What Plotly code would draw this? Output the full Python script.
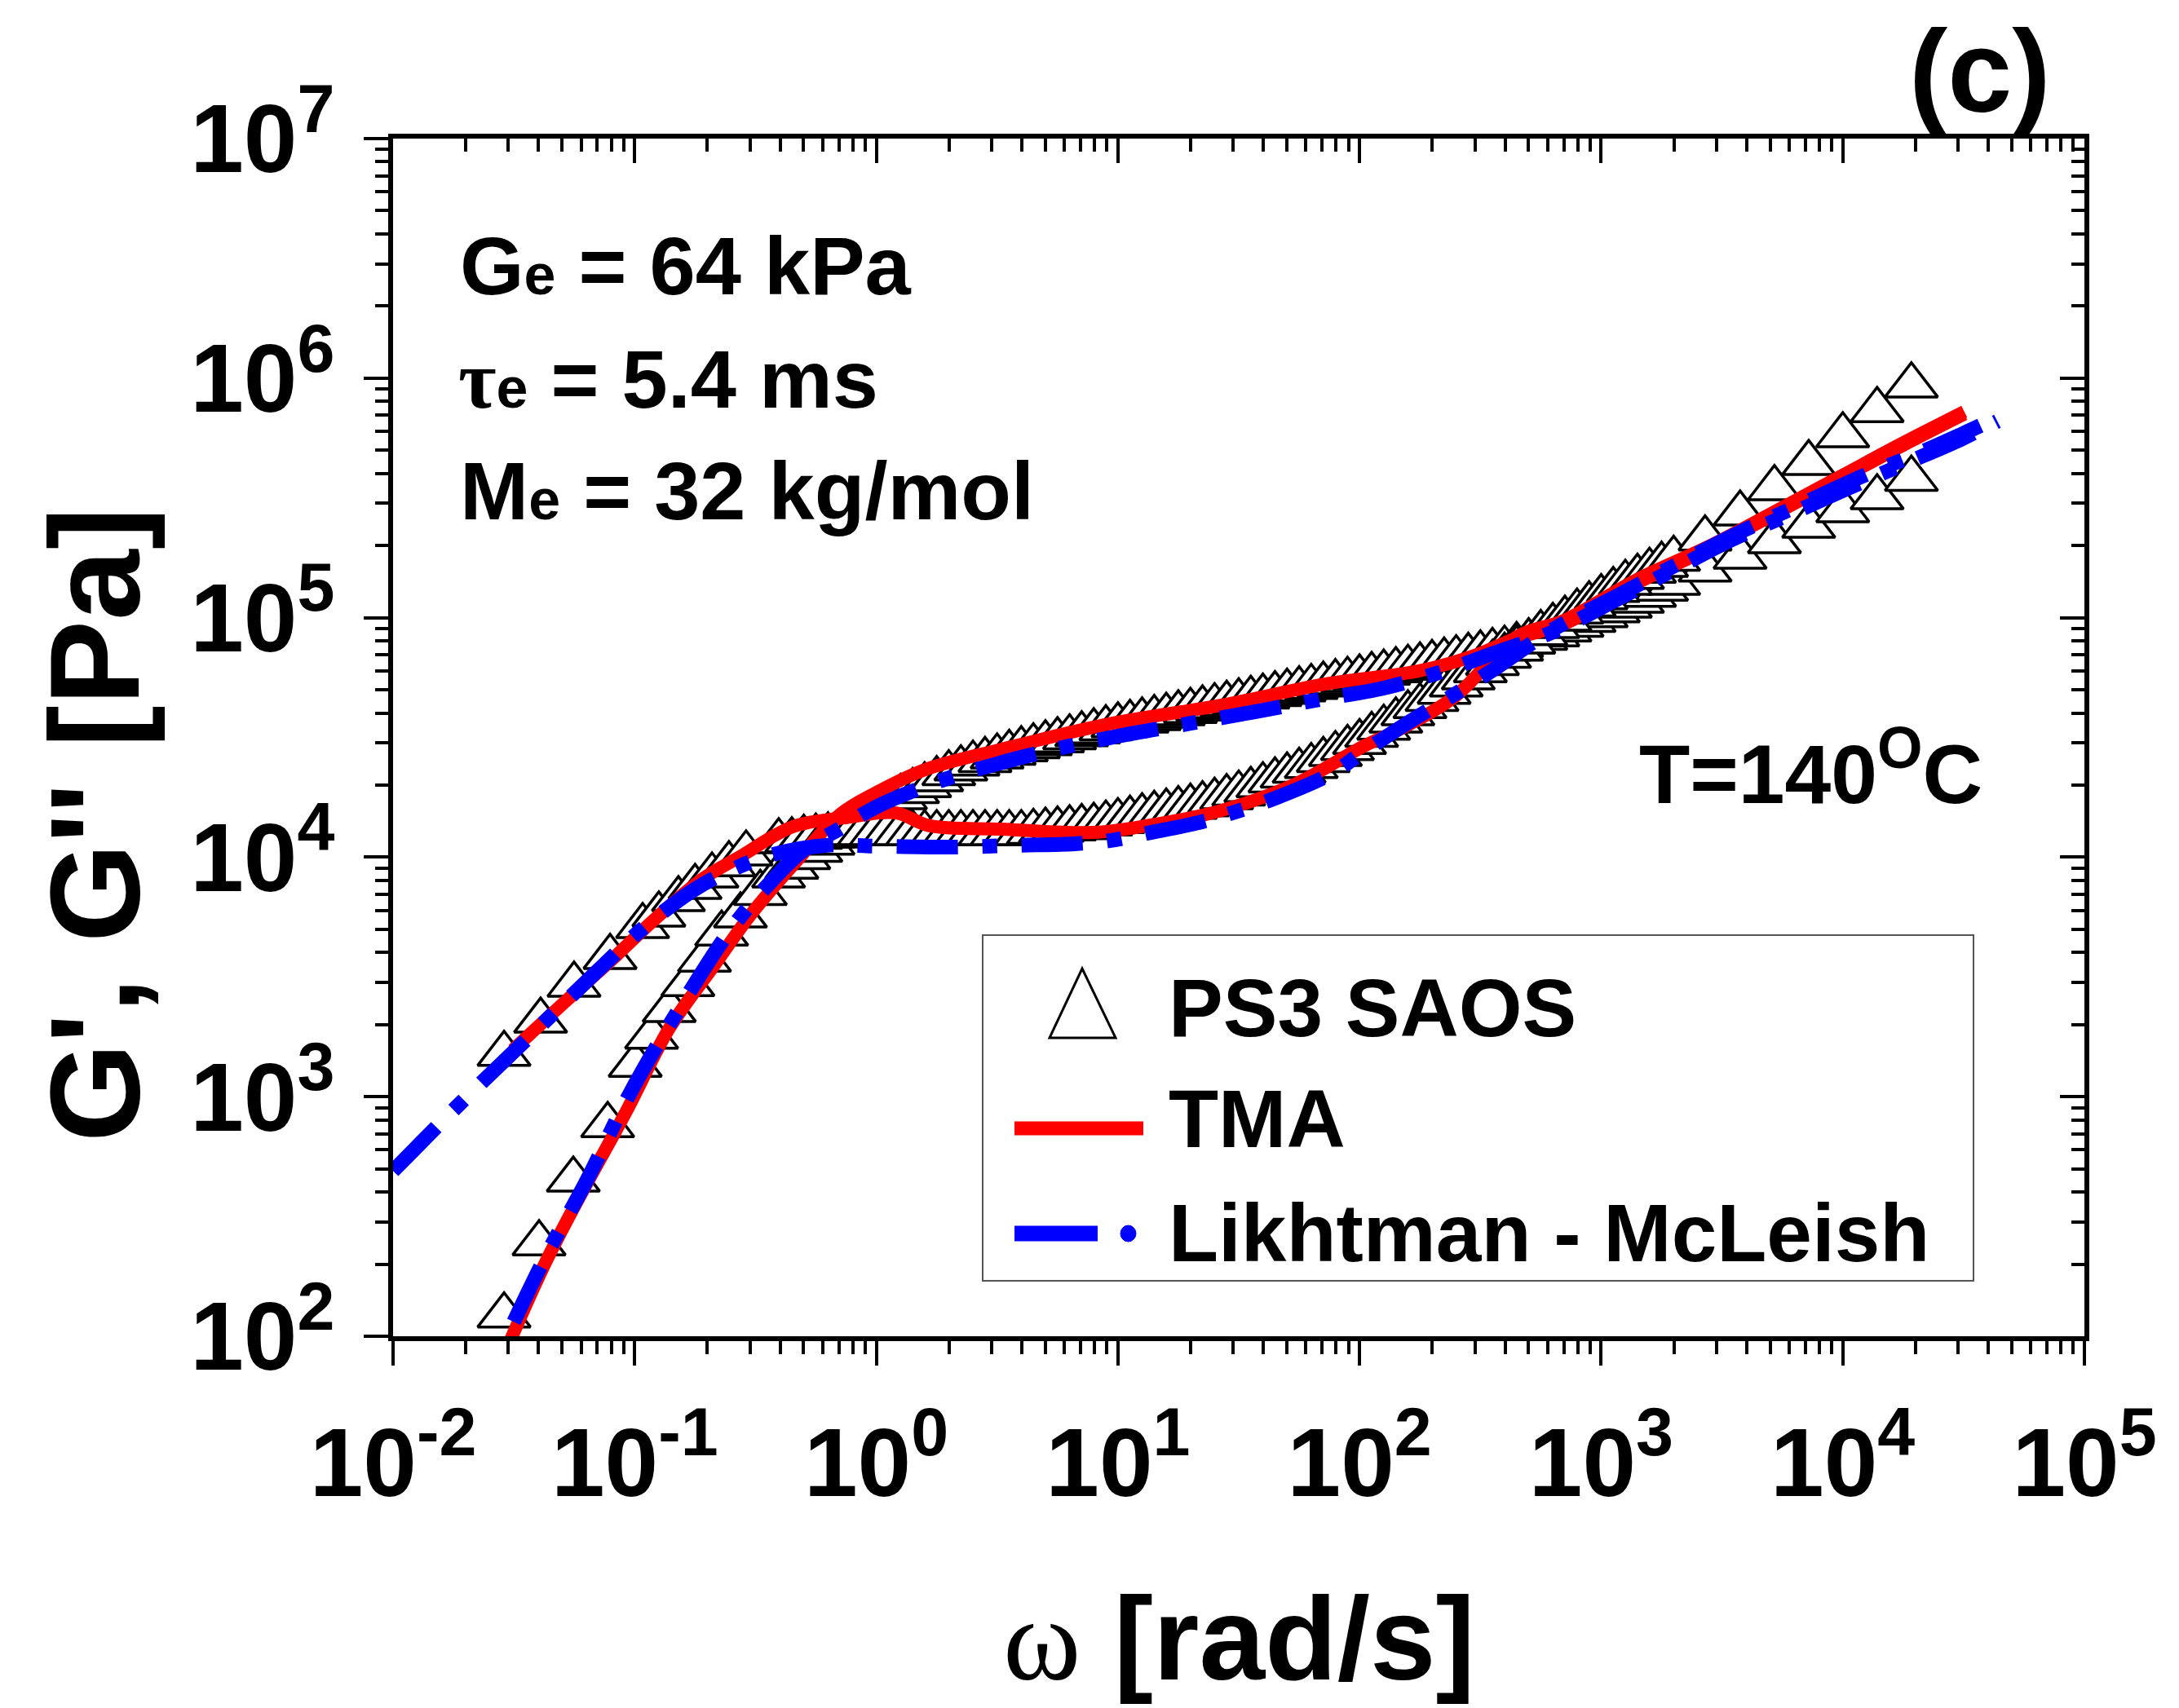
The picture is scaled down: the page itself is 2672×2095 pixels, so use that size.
import plotly.graph_objects as go

# ---------------- data ----------------
# PS3 SAOS  G' (storage modulus)
saos_w_storage = [0.0288, 0.0402, 0.0557, 0.0773, 0.1005, 0.1175, 0.139, 0.166, 0.1945, 0.229, 0.274, 0.331, 0.394, 0.447,
                  0.501, 0.562, 0.631, 0.708, 0.794, 0.891, 1.0, 1.122, 1.259, 1.413, 1.585, 1.778, 1.995, 2.239, 2.512, 2.818,
                  3.162, 3.548, 3.981, 4.467, 5.012, 5.623, 6.310, 7.079, 7.943, 8.913, 10.0, 11.22, 12.59, 14.13, 15.85, 17.78,
                  19.95, 22.39, 25.12, 28.18, 31.62, 35.48, 39.81, 44.67, 50.12, 56.23, 63.10, 70.79, 79.43, 89.13, 100.0, 112.2,
                  125.9, 141.3, 158.5, 177.8, 199.5, 223.9, 251.2, 281.8, 316.2, 354.8, 398.1, 446.7, 501.2, 562.3, 631.0, 707.9,
                  794.3, 891.3, 1000, 1122, 1259, 1413, 1585, 1778, 1995,
                  2692, 3758, 5212, 7228, 10000, 13870, 19230]
saos_storage = [122, 244, 450, 760, 1358, 1780, 2300, 2950, 3730, 4790, 5700, 7080, 8380, 9120,
                10000, 10720, 11480, 12300, 13180, 14290, 15490, 16600, 17780, 18840, 19950, 21130, 22390, 23440, 24550, 25410,
                26300, 27230, 28180, 29000, 29850, 30730, 31620, 32550, 33500, 34480, 35480, 36310, 37150, 38020, 38900, 39810,
                40740, 41690, 42660, 43650, 44670, 45710, 46770, 47860, 48980, 50120, 51290, 52480, 53700, 54950, 56230, 57540,
                58880, 60260, 61660, 63100, 64570, 66070, 67610, 69180, 70790, 72440, 74130, 76740, 79430, 82220, 85110, 89130,
                93330, 97720, 102300, 107200, 112200, 117500, 124500, 131800, 139600,
                158500, 179500, 208400, 241500, 280500, 317700, 379300]

# PS3 SAOS  G'' (loss modulus)
saos_w_loss = [0.0288, 0.0408, 0.0561, 0.0791, 0.1079, 0.1259, 0.1517, 0.1778, 0.2089, 0.2455, 0.2891, 0.3945, 0.447,
               0.501, 0.562, 0.631, 0.708, 0.794, 0.891, 1.0, 1.122, 1.259, 1.413, 1.585, 1.778, 1.995, 2.239, 2.512, 2.818,
               3.162, 3.548, 3.981, 4.467, 5.012, 5.623, 6.310, 7.079, 7.943, 8.913, 10.0, 11.22, 12.59, 14.13, 15.85, 17.78,
               19.95, 22.39, 25.12, 28.18, 31.62, 35.48, 39.81, 44.67, 50.12, 56.23, 63.10, 70.79, 79.43, 89.13, 100.0, 112.2,
               125.9, 141.3, 158.5, 177.8, 199.5, 223.9, 251.2, 281.8, 316.2, 354.8, 398.1, 446.7, 501.2, 562.3, 631.0, 707.9,
               794.3, 891.3, 1000, 1122, 1259, 1413, 1585, 1778, 1995,
               2692, 3758, 5212, 7228, 10000, 13870, 19230]
saos_loss = [1507, 2075, 2931, 3828, 5152, 5754, 6668, 7499, 8375, 9333, 10350, 11640, 11750,
             12020, 12160, 12300, 12450, 12590, 12590, 12590, 12590, 12590, 12590, 12590, 12590, 12590, 12590, 12590, 12590,
             12590, 12590, 12590, 12740, 12880, 13030, 13180, 13340, 13490, 13800, 14130, 14450, 14790, 15140, 15490, 15850,
             16220, 16600, 17180, 17780, 18410, 19050, 19950, 20890, 21880, 22910, 23990, 25410, 26920, 28510, 30200, 32360,
             34670, 37150, 39810, 42660, 45710, 48980, 52480, 56230, 60260, 64570, 69180, 74130, 79430, 86100, 92260, 98860,
             105900, 113500, 121600, 130300, 139600, 147900, 156700, 166000, 175800,
             213800, 271600, 346700, 441600, 576800, 734500, 931100]

# TMA model
tma_w_storage = [0.0302, 0.0430, 0.0630, 0.0920, 0.1393, 0.2118, 0.2999, 0.4539, 0.7129, 1.0, 1.585, 3.311, 9.376,
                 26.55, 74.99, 174.6, 293.8, 447.7, 707.9, 1413, 2818, 5623, 10000, 17780, 31840]
tma_storage = [93.3, 205.6, 429.5, 863, 1936, 3499, 5702, 9311, 15170, 18620, 23170, 28250, 36140,
               43050, 53210, 59840, 69020, 82220, 94410, 139600, 195000, 281800, 384600, 524800, 707900]
tma_w_loss = [0.0313, 0.0528, 0.0804, 0.1211, 0.1910, 0.2698, 0.4539, 0.7638, 1.208, 1.648, 3.311, 7.870, 13.24,
              26.42, 53.09, 106.2, 146.9, 247.7, 447.7, 707.9, 1413, 2818, 5623, 10000, 17780, 31840]
tma_loss = [1567, 2547, 3733, 5508, 8110, 9977, 13430, 14660, 15310, 13550, 13090, 12680, 13550,
            15600, 20000, 29380, 34200, 46770, 83180, 97720, 144500, 199500, 288400, 393600, 537000, 724400]

# Likhtman - McLeish model
lm_w_storage = [0.0316, 0.0430, 0.0631, 0.0953, 0.1549, 0.2518, 0.3690, 0.5012, 0.7079, 1.0, 1.754, 3.162, 5.970,
                10.0, 19.77, 36.81, 66.53, 125.9, 223.4, 354.8, 631.0, 1159, 1995, 3548, 6310, 10000, 17780, 30900, 43650]
lm_storage = [114.8, 217.3, 443.6, 1026, 2377, 5047, 7962, 10720, 13180, 16220, 20460, 24550, 28770,
              31990, 36140, 40460, 45290, 50820, 59840, 70790, 87100, 118900, 158500, 213800, 275400, 338800, 436500,
              555900, 660700]
lm_w_loss = [0.01, 0.0157, 0.0222, 0.0326, 0.0528, 0.0748, 0.1059, 0.1750, 0.2518, 0.3690, 0.6266, 1.0, 2.037, 3.936,
             6.607, 9.376, 13.24, 22.28, 31.55, 44.67, 75.16, 102.8, 146.9, 190.1, 247.7, 350.8, 631.0, 1159, 1995,
             3548, 6310, 12020, 19950, 30900, 43650]
lm_loss = [489.8, 776.2, 1096, 1589, 2547, 3565, 4955, 7278, 8851, 10230, 11220, 11120, 11020, 11220,
           11380, 11750, 12590, 14060, 15600, 17620, 22130, 27350, 34670, 40740, 47860, 59840, 89130, 123000, 164100,
           221300, 288400, 389000, 478600, 582100, 683900]

x_tickvals = [1e-2, 1e-1, 1e0, 1e1, 1e2, 1e3, 1e4, 1e5]
x_ticktext = ["10<sup>-2</sup>", "10<sup>-1</sup>", "10<sup>0</sup>", "10<sup>1</sup>", "10<sup>2</sup>",
              "10<sup>3</sup>", "10<sup>4</sup>", "10<sup>5</sup>"]
y_tickvals = [1e2, 1e3, 1e4, 1e5, 1e6, 1e7]
y_ticktext = ["10<sup>2</sup>", "10<sup>3</sup>", "10<sup>4</sup>", "10<sup>5</sup>", "10<sup>6</sup>", "10<sup>7</sup>"]

# ---------------- styling ----------------
SANS = "Liberation Sans, Arial, Helvetica, sans-serif"
W, H = 2672, 2095
L, R, T, B = 482, 116, 170, 456
PW, PH = W - L - R, H - T - B


def px(x):
    return (x - L) / PW


def py(y):
    return (H - B - y) / PH


fig = go.Figure()

tri = dict(symbol="triangle-up", size=56, color="white", line=dict(color="black", width=3.5))
fig.add_trace(go.Scatter(x=saos_w_storage, y=saos_storage, mode="markers", marker=tri,
                         name="PS3 SAOS G'", showlegend=False))
fig.add_trace(go.Scatter(x=saos_w_loss, y=saos_loss, mode="markers", marker=tri,
                         name="PS3 SAOS G''", showlegend=False))

red = dict(color="#ff0000", width=16)
fig.add_trace(go.Scatter(x=tma_w_storage, y=tma_storage, mode="lines", line=red, line_shape="spline",
                         name="TMA G'", showlegend=False, xaxis="x2", yaxis="y2"))
fig.add_trace(go.Scatter(x=tma_w_loss, y=tma_loss, mode="lines", line=red, line_shape="spline",
                         name="TMA G''", showlegend=False, xaxis="x2", yaxis="y2"))
blue = dict(color="#0000ff", width=18, dash="75px,30px,18px,30px")
fig.add_trace(go.Scatter(x=lm_w_storage, y=lm_storage, mode="lines", line=blue, line_shape="spline",
                         name="Likhtman - McLeish G'", showlegend=False, xaxis="x2", yaxis="y2"))
fig.add_trace(go.Scatter(x=lm_w_loss, y=lm_loss, mode="lines", line=blue, line_shape="spline",
                         name="Likhtman - McLeish G''", showlegend=False, xaxis="x2", yaxis="y2"))

tickfont = dict(family=SANS, size=118, color="black", weight="bold")
common = dict(type="log", showline=True, linecolor="black", linewidth=6, showgrid=False, zeroline=False,
              tickwidth=4, tickcolor="black", ticklen=30)
minor_out = dict(ticks="outside", ticklen=16, tickwidth=4, tickcolor="black", dtick="D1", showgrid=False)
minor_in = dict(ticks="inside", ticklen=16, tickwidth=4, tickcolor="black", dtick="D1", showgrid=False)

fig.update_layout(
    width=W, height=H,
    margin=dict(l=L, r=R, t=T, b=B, autoexpand=False),
    paper_bgcolor="white", plot_bgcolor="white",
    showlegend=False,
    xaxis=dict(**common, range=[-2, 5], ticks="outside", tickmode="array", tickvals=x_tickvals,
               ticktext=x_ticktext, tickfont=tickfont, ticklabelstandoff=18, minor=minor_out),
    yaxis=dict(**common, range=[2, 7], ticks="outside", tickmode="array", tickvals=y_tickvals,
               ticktext=y_ticktext, tickfont=tickfont, ticklabelstandoff=12, minor=minor_out),
    xaxis2=dict(**common, range=[-2, 5], overlaying="x", side="top", anchor="y", ticks="inside",
                tickmode="array", tickvals=x_tickvals, showticklabels=False, minor=minor_in),
    yaxis2=dict(**common, range=[2, 7], overlaying="y", side="right", anchor="x", ticks="inside",
                tickmode="array", tickvals=y_tickvals, showticklabels=False, minor=minor_in),
)

ann = []


def bold(s):
    return dict(family=SANS, size=s, color="black", weight="bold")


# axis titles
ann.append(dict(text="<span style='font-family:Liberation Serif;font-weight:normal'>ω</span> [rad/s]",
                x=0.5, y=py(2093), xref="paper", yref="paper", xanchor="center", yanchor="bottom",
                showarrow=False, font=bold(145)))
ann.append(dict(text="G', G'' [Pa]", textangle=-90, x=px(116), y=py(1012), xref="paper", yref="paper",
                xanchor="center", yanchor="middle", showarrow=False, font=bold(156)))
# parameter block
ann.append(dict(text="G<span style='font-size:70px'>e</span> = 64 kPa", x=px(562), y=py(326),
                xref="paper", yref="paper", xanchor="left", yanchor="middle", showarrow=False, font=bold(101)))
ann.append(dict(text="<span style='font-family:Liberation Serif'>τ</span><span style='font-size:70px'>e</span> = 5.4 ms",
                x=px(560), y=py(465), xref="paper", yref="paper", xanchor="left", yanchor="middle",
                showarrow=False, font=bold(101)))
ann.append(dict(text="M<span style='font-size:70px'>e</span> = 32 kg/mol", x=px(562), y=py(602),
                xref="paper", yref="paper", xanchor="left", yanchor="middle", showarrow=False, font=bold(101)))
ann.append(dict(text="T=140<sup>O</sup>C", x=px(2433), y=py(942), xref="paper", yref="paper",
                xanchor="right", yanchor="middle", showarrow=False, font=bold(102)))
ann.append(dict(text="(c)", x=px(2428), y=py(88), xref="paper", yref="paper",
                xanchor="center", yanchor="middle", showarrow=False, font=bold(142)))
# legend text
for txt, yy in [("PS3 SAOS", 1236), ("TMA", 1372), ("Likhtman - McLeish", 1512)]:
    ann.append(dict(text=txt, x=px(1431), y=py(yy), xref="paper", yref="paper", xanchor="left",
                    yanchor="middle", showarrow=False, font=bold(100)))

shapes = []
# legend frame
shapes.append(dict(type="rect", xref="paper", yref="paper", x0=px(1205), x1=px(2420), y0=py(1571), y1=py(1147),
                   line=dict(color="#555555", width=2), fillcolor="white", layer="above"))
# legend symbols
shapes.append(dict(type="path", xref="paper", yref="paper",
                   path=f"M {px(1287)},{py(1273)} L {px(1368)},{py(1273)} L {px(1327)},{py(1188)} Z",
                   line=dict(color="black", width=3), fillcolor="white"))
shapes.append(dict(type="line", xref="paper", yref="paper", x0=px(1244), x1=px(1402), y0=py(1384), y1=py(1384),
                   line=dict(color="#ff0000", width=17)))
shapes.append(dict(type="line", xref="paper", yref="paper", x0=px(1244), x1=px(1346), y0=py(1513), y1=py(1513),
                   line=dict(color="#0000ff", width=19)))
shapes.append(dict(type="circle", xref="paper", yref="paper", x0=px(1374), x1=px(1393), y0=py(1523), y1=py(1503),
                   line=dict(color="#0000ff", width=1), fillcolor="#0000ff"))

fig.update_layout(annotations=ann, shapes=shapes)
fig.write_html("out.html")
